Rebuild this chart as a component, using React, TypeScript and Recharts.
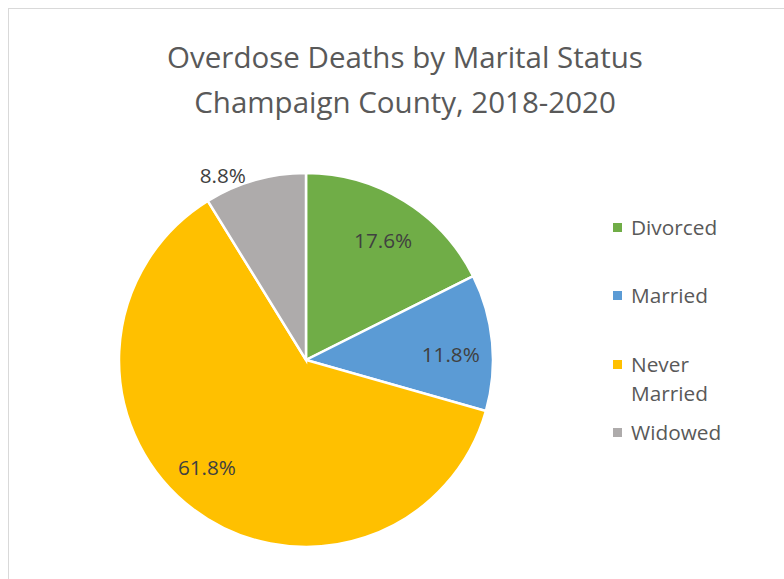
import { PieChart, Pie, Cell, Legend } from "recharts";

const categories = ["Divorced", "Married", "Never Married", "Widowed"];
const shares = [17.6, 11.8, 61.8, 8.8];
const colors = ["#70AD47", "#5B9BD5", "#FFC000", "#AEABAB"];

// where Excel's "best fit" put each label: angle (deg) and radius fraction
const labelSpots = [
  { angle: 57.3, r: 0.763 },
  { angle: 2.4, r: 0.775 },
  { angle: -132.8, r: 0.78 },
  { angle: 114.2, r: 1.085 },
];

const data = categories.map((name, i) => ({ name, value: shares[i] }));

const FONT = "'Open Sans', sans-serif";
const RAD = Math.PI / 180;

function renderLabel(props: any) {
  const { cx, cy, outerRadius, index, value } = props;
  const spot = labelSpots[index];
  const x = cx + outerRadius * spot.r * Math.cos(spot.angle * RAD);
  const y = cy - outerRadius * spot.r * Math.sin(spot.angle * RAD);
  return (
    <text
      x={x}
      y={y}
      fill="#404040"
      fontSize={20.7}
      fontFamily={FONT}
      textAnchor="middle"
      dominantBaseline="central"
    >
      {value.toFixed(1)}%
    </text>
  );
}

function renderLegend(props: any) {
  const payload = props.payload ?? [];
  return (
    <div style={{ fontFamily: FONT, fontSize: 20.8, color: "#595959" }}>
      {payload.map((p: any, i: number) => (
        <div key={i} style={{ height: 68.4, display: "flex", alignItems: "flex-start" }}>
          <span
            style={{
              display: "inline-block",
              width: 9,
              height: 9,
              background: p.color,
              marginTop: 10,
              marginRight: 9,
              flex: "none",
            }}
          />
          <span style={{ width: 110, lineHeight: "29px" }}>{p.value}</span>
        </div>
      ))}
    </div>
  );
}

export default function App() {
  return (
    <div style={{ position: "relative", width: 784, height: 579, overflow: "hidden", background: "#fff" }}>
      <style>{`body{margin:0;overflow:hidden}`}</style>
      <div
        style={{
          position: "absolute",
          left: 8,
          top: 8,
          width: 800,
          height: 600,
          borderLeft: "1px solid #d9d9d9",
          borderTop: "1px solid #d9d9d9",
        }}
      />
      <div
        style={{
          position: "absolute",
          left: 5,
          top: 34,
          width: 800,
          textAlign: "center",
          fontFamily: FONT,
          fontSize: 29.5,
          lineHeight: "45px",
          color: "#595959",
        }}
      >
        Overdose Deaths by Marital Status
        <br />
        Champaign County, 2018-2020
      </div>
      <div style={{ position: "absolute", left: 0, top: 0 }}>
        <PieChart width={784} height={579} margin={{ top: 0, right: 0, bottom: 0, left: 0 }}>
          <Pie
            data={data}
            dataKey="value"
            nameKey="name"
            cx={306}
            cy={360}
            outerRadius={187}
            startAngle={90}
            endAngle={-270}
            stroke="#fff"
            strokeWidth={2.5}
            label={renderLabel}
            labelLine={false}
            isAnimationActive={false}
          >
            {data.map((_, i) => (
              <Cell key={i} fill={colors[i]} />
            ))}
          </Pie>
          <Legend
            layout="vertical"
            content={renderLegend}
            wrapperStyle={{ position: "absolute", left: 613, top: 213, width: 150 }}
          />
        </PieChart>
      </div>
    </div>
  );
}
